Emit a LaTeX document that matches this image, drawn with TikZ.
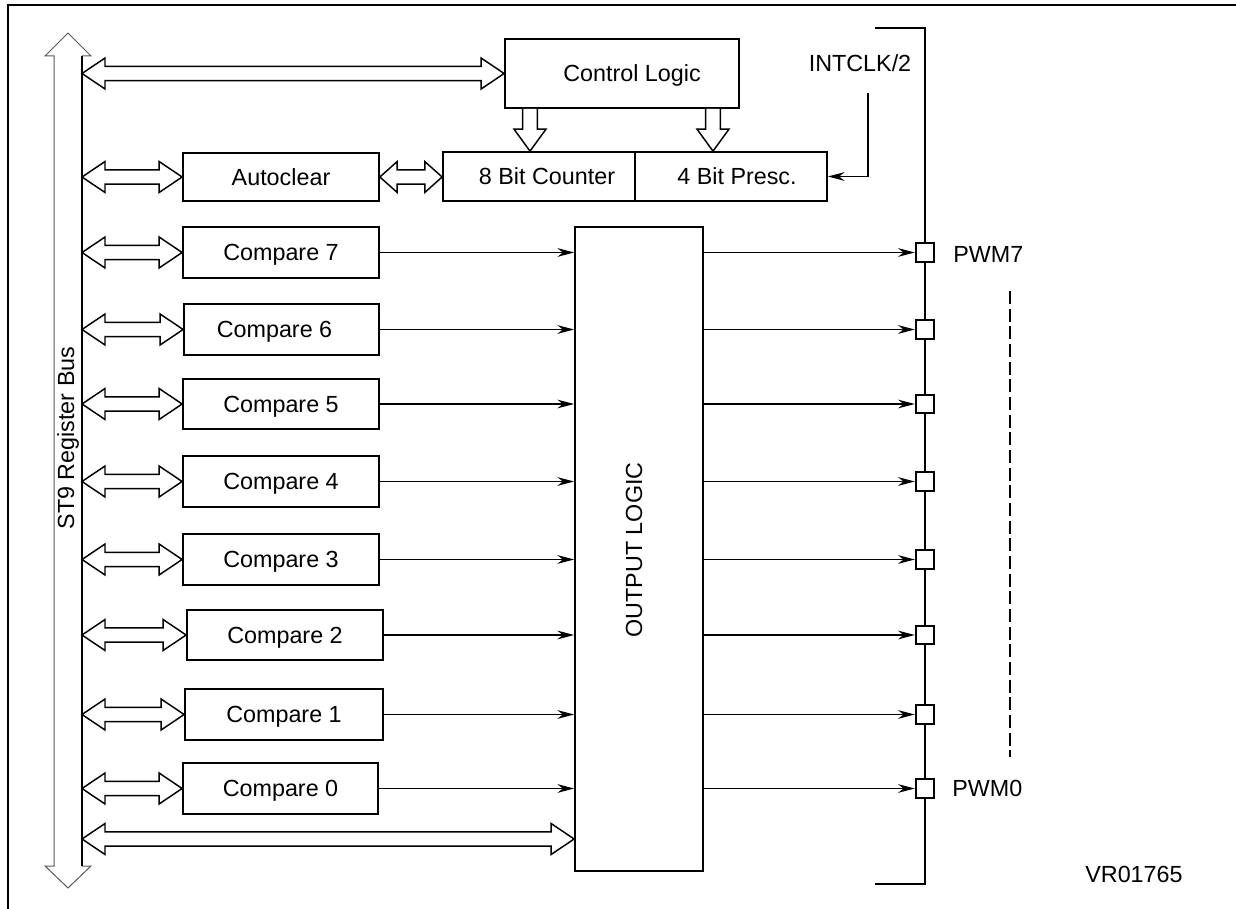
\documentclass[tikz,border=0pt]{standalone}
\usepackage{fontspec}
\setmainfont{Liberation Sans}
\usetikzlibrary{arrows.meta,calc}
\newcommand\labfont{\fontsize{17.5pt}{21pt}\selectfont}
% hollow double-headed horizontal arrow: [head length]{left point}{right point}
\newcommand\dblarrow[3][17.25pt]{%
  \draw[hol] let \p1=(#2), \p2=(#3) in
   (\x1,\y1) -- (\x1+#1,\y1+11.6pt) -- (\x1+#1,\y1+5.3pt) -- (\x2-#1,\y1+5.3pt)
   -- (\x2-#1,\y1+11.6pt) -- (\x2,\y1) -- (\x2-#1,\y1-11.6pt) -- (\x2-#1,\y1-5.3pt)
   -- (\x1+#1,\y1-5.3pt) -- (\x1+#1,\y1-11.6pt) -- cycle;}
% hollow single-headed downward arrow: {top point}{tip point}
\newcommand\dnarrow[2]{%
  \draw[hol] let \p1=(#1), \p2=(#2) in
   (\x1-5.6pt,\y1) -- (\x1-5.6pt,\y2+16.5pt) -- (\x1-12pt,\y2+16.5pt) -- (\x1,\y2)
   -- (\x1+12pt,\y2+16.5pt) -- (\x1+5.6pt,\y2+16.5pt) -- (\x1+5.6pt,\y1);}
% block: {name}{x1}{y1}{x2}{y2}{text}
\newcommand\blkbox[6]{%
  \node[blk,minimum width={(#4-#2)*0.75pt},minimum height={(#5-#3)*0.75pt}]
    (#1) at ({(#2+#4)/2},{(#3+#5)/2}) {#6};}
\begin{document}
\begin{tikzpicture}[x=0.75pt,y=-0.75pt,
  blk/.style={draw,line width=1.3pt,inner sep=0pt,font=\labfont,text height=12.3pt,text depth=0pt},
  hol/.style={draw,fill=white,line width=1.1pt,line join=miter},
  sig/.style={line width=1.15pt,-{Stealth[length=12.5pt,width=6.5pt,inset=4pt]}},
  pinbox/.style={draw,fill=white,line width=1.3pt,minimum size=14pt,inner sep=0pt},
  lbl/.style={font=\labfont,inner sep=0pt}]
\useasboundingbox (0,0) rectangle (1236,909);
% frame
\draw[line width=1.5pt] (8,920) -- (8,5) -- (1250,5);

% register bus (vertical hollow double arrow)
\coordinate (busT) at (68,33);
\coordinate (busB) at (68,888);
\coordinate (busR) at (82,0);
\draw[line width=0.75pt,draw=black!65,fill=white,line join=miter]
  (busT) -- (91,56) -- (82,56) -- (82,866) -- (91,866) -- (busB)
  -- (45,866) -- (54,866) -- (54,56) -- (45,56) -- cycle;
\draw[line width=1.4pt] (82,56) -- (82,866);
\node[lbl,rotate=90] (buslbl) at (68,438) {ST9 Register Bus};

% top blocks
\blkbox{ctrl}{505}{39}{739}{108}{\hspace*{15pt}Control Logic}
\blkbox{auto}{183}{153}{379}{201}{Autoclear}
\blkbox{cnt}{443}{152}{635}{201}{\hspace*{12pt}8 Bit Counter}
\blkbox{presc}{635}{152}{827}{201}{\hspace*{9pt}4 Bit Presc.}

\dblarrow{busR |- ctrl.west}{ctrl.west}
\dblarrow{busR |- auto.west}{auto.west}
\dblarrow[13pt]{auto.east}{cnt.west}
\dnarrow{ctrl.south -| 530,0}{cnt.north -| 530,0}
\dnarrow{ctrl.south -| 713,0}{presc.north -| 713,0}

% clock input
\node[lbl] (clk) at (860,63) {INTCLK/2};
\coordinate (clktop) at (868,93);
\draw[sig] (clktop) |- (presc.east);

% output logic
\blkbox{ol}{575}{227}{703}{871}{}
\node[lbl,rotate=90] (oltxt) at (634,550) {OUTPUT LOGIC};

% pin rail
\coordinate (railT) at (875,28);
\coordinate (railB) at (875,884);
\draw[line width=1.3pt] (railT) -- (925,28) -- (925,884) -- (railB);

% compare blocks
\blkbox{c7}{183}{227}{379}{278}{Compare 7}
\blkbox{c6}{184}{304}{379}{355}{\hspace*{-10.5pt}Compare 6}
\blkbox{c5}{183}{379}{379}{429}{Compare 5}
\blkbox{c4}{183}{456}{379}{507}{Compare 4}
\blkbox{c3}{183}{534}{379}{585}{Compare 3}
\blkbox{c2}{187}{610}{383}{660}{Compare 2}
\blkbox{c1}{185}{689}{383}{740}{Compare 1}
\blkbox{c0}{183}{763}{378}{814}{Compare 0}

\foreach \i in {0,...,7} {
  \dblarrow{busR |- c\i.west}{c\i.west}
  \node[pinbox] (p\i) at (925,0 |- c\i.east) {};
  \draw[sig] (c\i.east) -- (c\i.east -| ol.west);
  \draw[sig] (ol.east |- p\i.west) -- (p\i.west);
}

% bottom long bus arrow
\coordinate (bl) at (82,839);
\dblarrow{bl}{bl -| ol.west}

% labels
\node[lbl,anchor=west] (pwm7) at (953,254) {PWM7};
\node[lbl,anchor=west] (pwm0) at (952,788) {PWM0};
\coordinate (dT) at (1010,291);
\coordinate (dB) at (1010,757);
\draw[line width=1.2pt,dash pattern=on 9.75pt off 3.5pt] (dT) -- (dB);
\node[lbl] (vr) at (1134,874) {VR01765};
\end{tikzpicture}
\end{document}
